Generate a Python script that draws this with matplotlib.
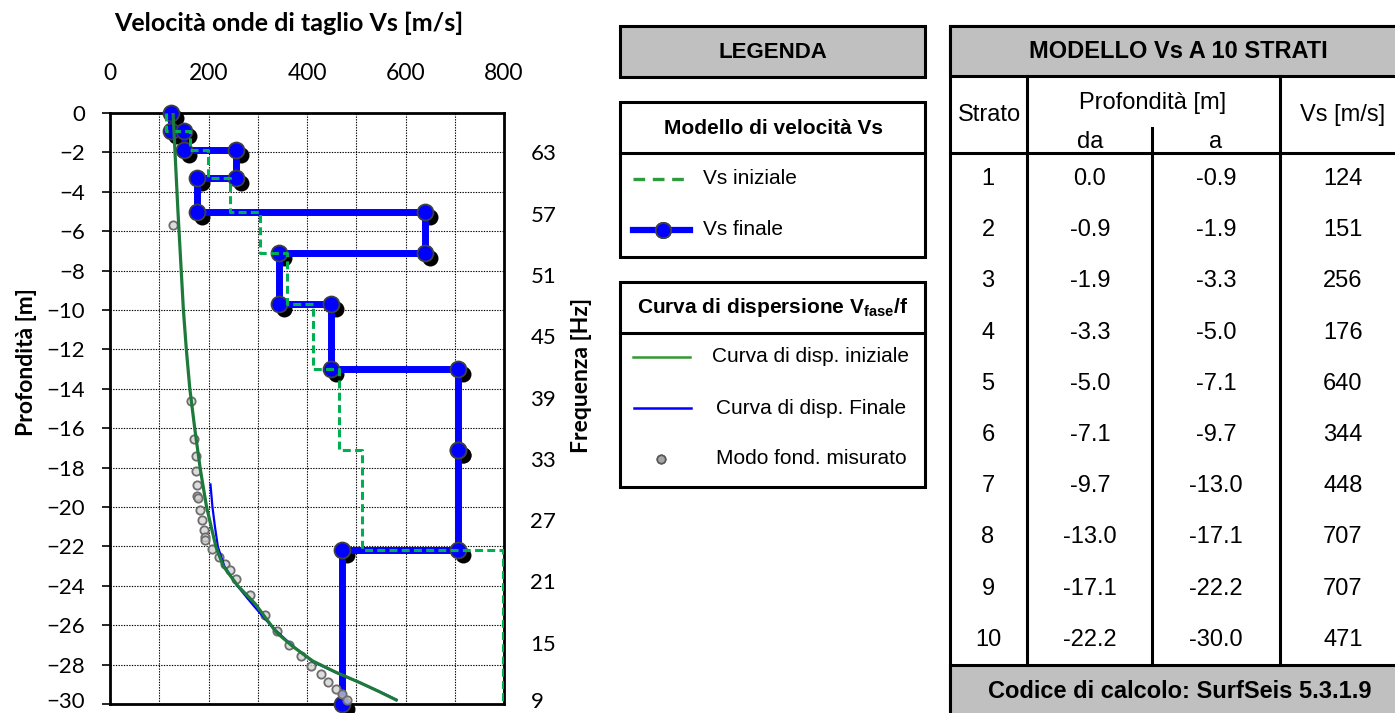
import matplotlib.pyplot as plt
import matplotlib.transforms as mtransforms
from matplotlib.patches import Rectangle
from matplotlib.lines import Line2D
from matplotlib.ticker import MultipleLocator, FuncFormatter

# modello Vs a 10 strati
strato = [1, 2, 3, 4, 5, 6, 7, 8, 9, 10]
prof_da = [0.0, -0.9, -1.9, -3.3, -5.0, -7.1, -9.7, -13.0, -17.1, -22.2]
prof_a = [-0.9, -1.9, -3.3, -5.0, -7.1, -9.7, -13.0, -17.1, -22.2, -30.0]
vs_finale = [124, 151, 256, 176, 640, 344, 448, 707, 707, 471]
vs_iniziale = [113, 162, 199, 243, 305, 360, 412, 464, 512, 797]

# curve di dispersione (velocita di fase [m/s], frequenza [Hz])
disp_ini_v = [128, 138, 149, 155, 162, 172, 183, 196, 215, 230, 259, 295, 338, 372, 412, 459, 507, 547, 581]
disp_ini_f = [66.9, 57.2, 47.6, 43.7, 39.9, 36.0, 32.1, 28.3, 24.4, 22.5, 20.6, 18.8, 16.0, 14.6, 13.2, 12.1, 11.1, 10.2, 9.4]
disp_fin_v = [204, 208, 213, 219, 232, 258, 292, 330, 368, 410, 458, 507, 548, 582]
disp_fin_f = [30.5, 28.3, 26.4, 24.4, 22.5, 20.6, 18.6, 16.5, 14.8, 13.2, 12.1, 11.1, 10.2, 9.4]
mis_v = [127, 163.5, 171, 174, 175, 176, 177, 178, 182, 186, 190, 192, 193, 208, 221, 233, 243, 255,
         284, 314, 339, 364, 388, 409, 428, 443, 458, 472, 482]
mis_f = [55.9, 38.7, 34.9, 33.3, 31.8, 30.4, 29.4, 29.2, 28.0, 27.0, 26.0, 25.3, 25.05, 24.2, 23.4, 22.7, 22.1, 21.2,
         19.7, 17.7, 16.1, 14.8, 13.7, 12.7, 11.9, 11.2, 10.5, 10.0, 9.4]

W, H = 1395, 713
fig = plt.figure(figsize=(W / 100, H / 100), dpi=100)

chart_font = 'Lato'
box_font = 'Liberation Sans'
plt.rcParams['mathtext.fontset'] = 'custom'
plt.rcParams['mathtext.bf'] = 'Liberation Sans:bold'
plt.rcParams['mathtext.rm'] = 'Liberation Sans'


def fx(x):
    return x / W


def fy(y):
    return 1 - y / H


# ---- grafico Vs / profondita ----
ax = fig.add_axes([fx(110), fy(704), 394 / W, 591 / H])
ax.set_xlim(0, 800)
ax.set_ylim(-30, 0)
ax.xaxis.tick_top()
ax.xaxis.set_major_locator(MultipleLocator(100))
ax.xaxis.set_major_formatter(FuncFormatter(lambda v, p: f"{v:.0f}" if v % 200 == 0 else ""))
ax.set_yticks(range(-30, 1, 2))
ax.tick_params(axis='x', length=0, pad=21, labelsize=16.5)
ax.tick_params(axis='y', direction='out', length=5.8, width=1.2, pad=12, labelsize=16)
for lab in ax.get_xticklabels() + ax.get_yticklabels():
    lab.set_fontfamily(chart_font)
ax.grid(True, color='black', linestyle=(0, (1.2, 1.2)), linewidth=0.8)
for s in ax.spines.values():
    s.set_linewidth(2)

step_x, step_y = [], []
ini_x, ini_y = [], []
for i in range(len(strato)):
    step_x += [vs_finale[i], vs_finale[i]]
    step_y += [prof_da[i], prof_a[i]]
    ini_x += [vs_iniziale[i], vs_iniziale[i]]
    ini_y += [prof_da[i], prof_a[i]]

shadow = mtransforms.offset_copy(ax.transData, fig=fig, x=5, y=-5, units='dots')
ax.plot(step_x, step_y, 'o', color='black', markersize=11.5, markeredgewidth=0,
        transform=shadow, zorder=3, clip_on=False)
ax.plot(step_x, step_y, color='#0000ff', lw=5, zorder=4, clip_on=False)
ax.plot(step_x, step_y, 'o', markerfacecolor='#0000ff', markeredgecolor='#404040',
        markersize=11.5, markeredgewidth=1.3, zorder=5, clip_on=False)
ax.plot(ini_x, ini_y, color='#00b050', lw=2.2, linestyle=(0, (2.6, 1.4)), zorder=6)

# asse frequenze a destra
ax2 = ax.twinx()
ax2.set_ylim(9, 9 + 30 * 54 / 28)
ax2.set_yticks(range(9, 64, 6))
ax2.tick_params(axis='y', length=0, pad=19, labelsize=16)
for lab in ax2.get_yticklabels():
    lab.set_fontfamily(chart_font)
for s in ax2.spines.values():
    s.set_visible(False)

# le etichette in fondo (-30 e 9) salgono di qualche pixel per restare nel foglio
lift = mtransforms.ScaledTranslation(0, 4 / 100, fig.dpi_scale_trans)
for lab in (ax.get_yticklabels()[0], ax2.get_yticklabels()[0]):
    lab.set_transform(lab.get_transform() + lift)

ax2.plot(mis_v, mis_f, 'o', markerfacecolor=(0.82, 0.82, 0.82, 0.75), markeredgecolor='#6e6e6e',
         markersize=6, markeredgewidth=1.3, zorder=3, clip_on=False)
ax2.plot(disp_fin_v, disp_fin_f, color='#0000ff', lw=1.6, zorder=4)
ax2.plot(disp_ini_v, disp_ini_f, color='#1e7a3a', lw=2.3, zorder=5)

fig.text(fx(289), fy(23), 'Velocità onde di taglio Vs [m/s]', ha='center', va='center',
         fontsize=18, fontweight='bold', family=chart_font)
fig.text(fx(27), fy(362), 'Profondità [m]', ha='center', va='center', rotation=90,
         fontsize=16.5, fontweight='bold', family=chart_font)
fig.text(fx(582), fy(375), 'Frequenza [Hz]', ha='center', va='center', rotation=90,
         fontsize=16.5, fontweight='bold', family=chart_font)


# ---- legenda e tabella ----
def box(x0, y0, x1, y1, fill='white', lw=2.2):
    fig.add_artist(Rectangle((fx(x0), fy(y1)), fx(x1) - fx(x0), fy(y0) - fy(y1),
                             transform=fig.transFigure, facecolor=fill,
                             edgecolor='black', linewidth=lw))


def hline(x0, x1, y, lw=2.2):
    fig.add_artist(Line2D([fx(x0), fx(x1)], [fy(y), fy(y)], transform=fig.transFigure,
                          color='black', lw=lw))


def vline(x, y0, y1, lw=2.2):
    fig.add_artist(Line2D([fx(x), fx(x)], [fy(y0), fy(y1)], transform=fig.transFigure,
                          color='black', lw=lw))


def label(x, y, s, size=15, bold=False, ha='center'):
    fig.text(fx(x), fy(y), s, ha=ha, va='center', fontsize=size,
             fontweight='bold' if bold else 'normal', family=box_font)


def sample(x0, x1, y, **kw):
    fig.add_artist(Line2D([fx(x0), fx(x1)], [fy(y), fy(y)], transform=fig.transFigure, **kw))


box(620, 26, 925, 77, fill='#c0c0c0')
label(773, 52, 'LEGENDA', size=16, bold=True)

box(620, 102, 925, 257)
hline(620, 925, 153)
label(773, 128, 'Modello di velocità Vs', bold=True)
sample(633, 690, 179, color='#2e9b3c', lw=2.4, linestyle=(0, (3.5, 2.3)))
label(703, 179, 'Vs iniziale', ha='left')
sample(633, 690, 230, color='#0000ff', lw=4.5)
sample(663, 663, 230, color='#0000ff', marker='o', markersize=11, markeredgecolor='#404040',
       markeredgewidth=1.3, linestyle='none')
label(703, 230, 'Vs finale', ha='left')

box(620, 282, 925, 487)
hline(620, 925, 333)
label(773, 307, r'Curva di dispersione V$_{\mathbf{fase}}$/f', bold=True)
sample(633, 690, 357, color='#339933', lw=1.8)
label(811, 357, 'Curva di disp. iniziale')
sample(634, 691, 408, color='#0000ff', lw=1.8)
label(811, 408, 'Curva di disp. Finale')
sample(661, 661, 459, marker='o', markersize=6, markerfacecolor='#a6a6a6',
       markeredgecolor='#595959', markeredgewidth=1.2, linestyle='none')
label(811, 459, 'Modo fond. misurato')

# tabella strati
box(950, 26, 1406, 740)
box(950, 26, 1406, 76, fill='#c0c0c0')
box(950, 665, 1406, 740, fill='#c0c0c0')
hline(950, 1406, 153)
vline(1027, 76, 665)
vline(1152, 128, 665)
vline(1280, 76, 665)
label(1178, 51, 'MODELLO Vs A 10 STRATI', size=17, bold=True)
label(989, 115, 'Strato', size=17)
label(1153, 103, 'Profondità [m]', size=17)
label(1090, 142, 'da', size=17)
label(1216, 142, 'a', size=17)
label(1343, 115, 'Vs [m/s]', size=17)
for i in range(len(strato)):
    yy = 179 + i * 51.2
    label(988, yy, str(strato[i]), size=17)
    label(1090, yy, f"{prof_da[i]:.1f}", size=17)
    label(1216, yy, f"{prof_a[i]:.1f}", size=17)
    label(1343, yy, str(vs_finale[i]), size=17)
label(1180, 692, 'Codice di calcolo: SurfSeis 5.3.1.9', size=17, bold=True)

fig.savefig('out.png', dpi=100)
